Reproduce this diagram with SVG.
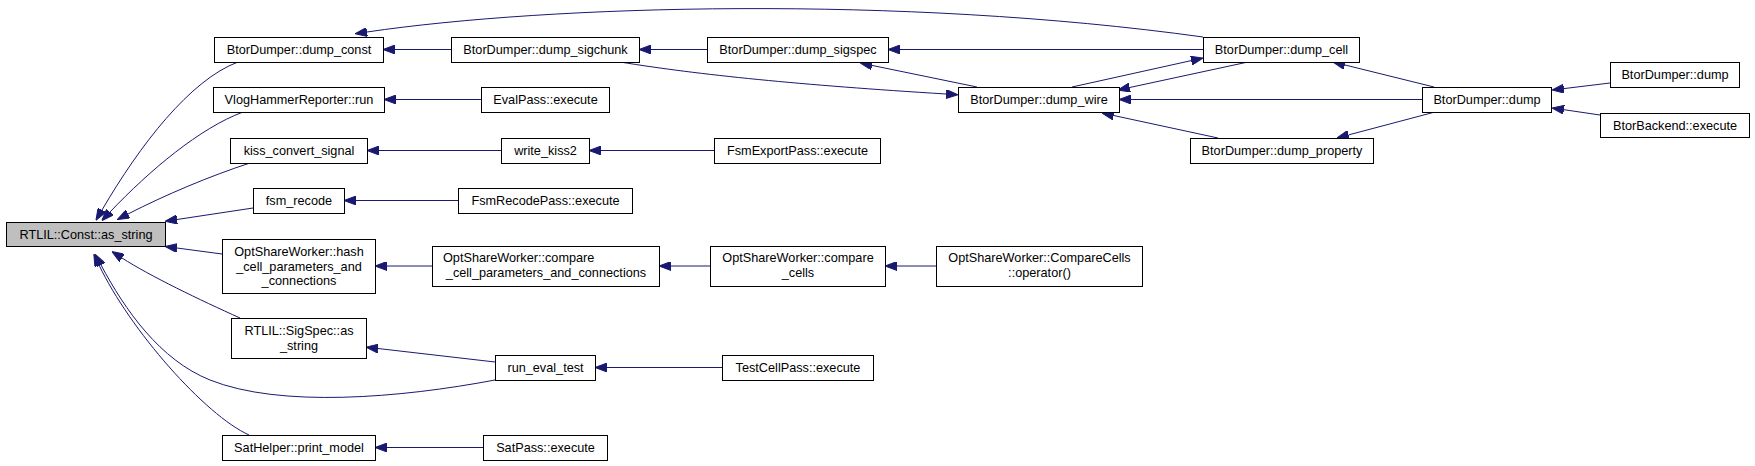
<svg xmlns="http://www.w3.org/2000/svg" width="1755" height="466" viewBox="0 0 1755 466">
<style>
.n rect{fill:#ffffff;stroke:#000000;stroke-width:1}
.root rect{fill:#bfbfbf}
text{font-family:Helvetica,"Liberation Sans",Arial,sans-serif;font-size:12.7px;fill:#000000;text-anchor:middle}
.e path{fill:none;stroke:#191970;stroke-width:1;marker-end:url(#ah)}
</style>
<defs>
<marker id="ah" viewBox="0 0 12 9" refX="0" refY="4.5" markerUnits="userSpaceOnUse" markerWidth="12" markerHeight="9" orient="auto">
<path d="M0,0 L12,4.5 L0,9 z" fill="#191970" stroke="#191970" stroke-width="1"/>
</marker>
</defs>
<rect width="1755" height="466" fill="#ffffff"/>
<g id="edges" class="e">
<path d="M238,62 C190,80 140,145 102,210"/>
<path d="M243,112 C200,128 150,170 110,212"/>
<path d="M250,163 C210,176 165,195 128,214"/>
<path d="M253,208 L177,219.5"/>
<path d="M222,254 L177,248"/>
<path d="M240,318 C200,300 150,276 122,258"/>
<path d="M495,380 C400,398 280,408 210,380 C160,360 125,310 101,265"/>
<path d="M249,435 C205,415 130,330 99,265"/>
<path d="M451,49.5 L395,49.5"/>
<path d="M1203,37 C900,-5 550,5 367,32"/>
<path d="M481,99.5 L396,99.5"/>
<path d="M501,150.5 L379,150.5"/>
<path d="M458,200.5 L356,200.5"/>
<path d="M432,266 L387,266"/>
<path d="M495,362 L378,348.5"/>
<path d="M483,447.5 L387,447.5"/>
<path d="M707,49.5 L651,49.5"/>
<path d="M620,62 C700,75 800,85 946,94"/>
<path d="M977,87 L872,65.4"/>
<path d="M1203,49.5 L900,49.5"/>
<path d="M1072,87 L1191.3,60.6"/>
<path d="M1248,62 L1129.7,87.5"/>
<path d="M1422,99.5 L1131,99.5"/>
<path d="M1218,138 L1113.7,115.5"/>
<path d="M1434,87 L1344.7,64.9"/>
<path d="M1435,112 L1348.6,134.9"/>
<path d="M1610,83 L1563.9,88.6"/>
<path d="M1600,115 L1563.9,109.7"/>
<path d="M710,266 L671,266"/>
<path d="M936,266 L897,266"/>
<path d="M722,367.5 L607,367.5"/>
<path d="M714,150.5 L601,150.5"/>
</g>
<g id="as_string" class="n root"><rect x="6.5" y="222.5" width="159" height="24"/><text x="86" y="239">RTLIL::Const::as_string</text></g>
<g id="dump_const" class="n"><rect x="214.5" y="37.5" width="169" height="25"/><text x="299" y="54">BtorDumper::dump_const</text></g>
<g id="vlog_run" class="n"><rect x="213.5" y="87.5" width="171" height="25"/><text x="299" y="104">VlogHammerReporter::run</text></g>
<g id="kiss_convert_signal" class="n"><rect x="230.5" y="138.5" width="137" height="25"/><text x="299" y="155">kiss_convert_signal</text></g>
<g id="fsm_recode" class="n"><rect x="253.5" y="188.5" width="91" height="25"/><text x="299" y="205">fsm_recode</text></g>
<g id="hash_cell" class="n"><rect x="222.5" y="239.5" width="153" height="54"/><text x="299" y="256">OptShareWorker::hash</text><text x="299" y="270.5">_cell_parameters_and</text><text x="299" y="285">_connections</text></g>
<g id="sigspec_as_string" class="n"><rect x="231.5" y="318.5" width="135" height="40"/><text x="299" y="335">RTLIL::SigSpec::as</text><text x="299" y="350">_string</text></g>
<g id="print_model" class="n"><rect x="222.5" y="435.5" width="153" height="25"/><text x="299" y="452">SatHelper::print_model</text></g>
<g id="dump_sigchunk" class="n"><rect x="451.5" y="37.5" width="188" height="25"/><text x="545.5" y="54">BtorDumper::dump_sigchunk</text></g>
<g id="evalpass" class="n"><rect x="481.5" y="87.5" width="128" height="25"/><text x="545.5" y="104">EvalPass::execute</text></g>
<g id="write_kiss2" class="n"><rect x="501.5" y="138.5" width="88" height="25"/><text x="545.5" y="155">write_kiss2</text></g>
<g id="fsmrecodepass" class="n"><rect x="458.5" y="188.5" width="174" height="25"/><text x="545.5" y="205">FsmRecodePass::execute</text></g>
<g id="compare_cell_params" class="n"><rect x="432.5" y="246.5" width="227" height="40"/><text x="443" y="262" style="text-anchor:start">OptShareWorker::compare</text><text x="546" y="277">_cell_parameters_and_connections</text></g>
<g id="run_eval_test" class="n"><rect x="495.5" y="355.5" width="100" height="25"/><text x="545.5" y="372">run_eval_test</text></g>
<g id="satpass" class="n"><rect x="483.5" y="435.5" width="124" height="25"/><text x="545.5" y="452">SatPass::execute</text></g>
<g id="dump_sigspec" class="n"><rect x="707.5" y="37.5" width="181" height="25"/><text x="798" y="54">BtorDumper::dump_sigspec</text></g>
<g id="fsmexportpass" class="n"><rect x="714.5" y="138.5" width="166" height="25"/><text x="797.5" y="155">FsmExportPass::execute</text></g>
<g id="compare_cells" class="n"><rect x="710.5" y="246.5" width="175" height="40"/><text x="798" y="262">OptShareWorker::compare</text><text x="798" y="277">_cells</text></g>
<g id="testcellpass" class="n"><rect x="722.5" y="355.5" width="151" height="25"/><text x="798" y="372">TestCellPass::execute</text></g>
<g id="dump_wire" class="n"><rect x="958.5" y="87.5" width="161" height="25"/><text x="1039" y="104">BtorDumper::dump_wire</text></g>
<g id="comparecells_op" class="n"><rect x="936.5" y="246.5" width="206" height="40"/><text x="1039.5" y="262">OptShareWorker::CompareCells</text><text x="1039.5" y="277">::operator()</text></g>
<g id="dump_cell" class="n"><rect x="1203.5" y="37.5" width="156" height="25"/><text x="1281.5" y="54">BtorDumper::dump_cell</text></g>
<g id="dump_property" class="n"><rect x="1190.5" y="138.5" width="183" height="25"/><text x="1282" y="155">BtorDumper::dump_property</text></g>
<g id="btordumper_dump" class="n"><rect x="1422.5" y="87.5" width="129" height="25"/><text x="1487" y="104">BtorDumper::dump</text></g>
<g id="btordumper_dump2" class="n"><rect x="1610.5" y="62.5" width="129" height="25"/><text x="1675" y="79">BtorDumper::dump</text></g>
<g id="btorbackend" class="n"><rect x="1600.5" y="113.5" width="149" height="24"/><text x="1675" y="130">BtorBackend::execute</text></g>
</svg>
